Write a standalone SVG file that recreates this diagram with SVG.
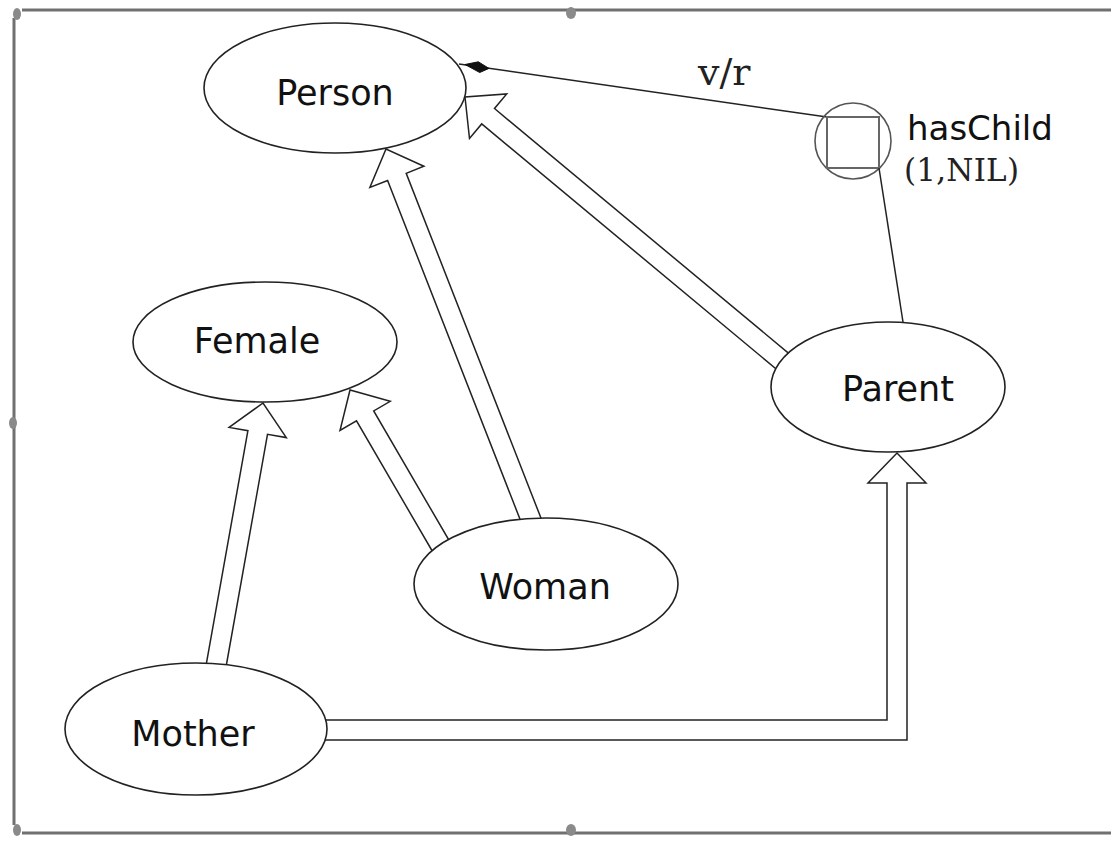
<svg xmlns="http://www.w3.org/2000/svg" width="1111" height="844" viewBox="0 0 1111 844">
<style>
.frame{stroke:#707070;stroke-width:3;fill:none}
.handle{fill:#8a8a8a}
.node{fill:#fff;stroke:#222;stroke-width:1.6}
.lbl{font-family:"DejaVu Sans",sans-serif;font-size:35px;fill:#111;text-anchor:middle}
.conn{fill:#fff;stroke:#222;stroke-width:1.5;stroke-linejoin:miter}
.ln{fill:none;stroke:#222;stroke-width:1.5}
.serif{font-family:"DejaVu Serif","Liberation Serif",serif;fill:#222}
</style>
<rect width="1111" height="844" fill="#fff"/>
<g id="frame">
<line class="frame" x1="22" y1="10" x2="1111" y2="10"/>
<line class="frame" x1="22" y1="833" x2="1111" y2="833"/>
<line class="frame" x1="14" y1="18" x2="14" y2="825"/>
<ellipse class="handle" cx="17" cy="14" rx="4" ry="6"/>
<ellipse class="handle" cx="571" cy="13" rx="5" ry="6"/>
<ellipse class="handle" cx="13" cy="423" rx="4" ry="6"/>
<ellipse class="handle" cx="17" cy="830" rx="4" ry="6"/>
<ellipse class="handle" cx="571" cy="830" rx="5" ry="6"/>
</g>
<g id="connectors">
<path class="conn" d="M794.4,358.1 L494.5,108.5 L506.7,93.9 L465,97 L469.5,138.5 L481.7,123.9 L781.6,373.5"/>
<path class="conn" d="M544.5,527.1 L406.2,173.3 L423.9,166.3 L386,149 L369.9,187.5 L387.6,180.5 L525.9,534.3"/>
<path class="conn" d="M456.7,553.5 L373.7,410.9 L390.2,401.3 L350,390 L340,430.5 L356.5,420.9 L439.5,563.5"/>
<path class="conn" d="M223.6,680.5 L267.5,434.3 L286.3,437.6 L263,403 L229.1,427.4 L247.9,430.7 L204,676.9"/>
<path class="conn" d="M300,720 L887,720 L887,483 L868,483 L897,453 L926,483 L907,483 L907,740 L300,740"/>
<line class="ln" x1="827" y1="117" x2="459" y2="64"/>
<polygon points="465,64.5 478.3,61.8 489,68.4 479.7,72.5" fill="#111" stroke="#111" stroke-width="1"/>
<text class="serif" x="698" y="85" font-size="38">v/r</text>
</g>
<g id="hasChild">
<circle cx="853" cy="141" r="38" fill="none" stroke="#555" stroke-width="1.6"/>
<rect x="827" y="117" width="52" height="51" fill="none" stroke="#666" stroke-width="2"/>
<line class="ln" x1="879" y1="168" x2="903" y2="322"/>
<text x="907" y="140" font-family="DejaVu Sans, sans-serif" font-size="34" fill="#111">hasChild</text>
<text class="serif" x="904" y="181" font-size="31" textLength="115" lengthAdjust="spacing">(1,NIL)</text>
</g>
<g id="Person">
<ellipse class="node" cx="335" cy="88" rx="131" ry="65"/>
<text class="lbl" x="335" y="105">Person</text>
</g>
<g id="Female">
<ellipse class="node" cx="265" cy="342" rx="132" ry="60"/>
<text class="lbl" x="257" y="353">Female</text>
</g>
<g id="Parent">
<ellipse class="node" cx="888" cy="387" rx="117" ry="65"/>
<text class="lbl" x="898" y="401">Parent</text>
</g>
<g id="Woman">
<ellipse class="node" cx="546" cy="584" rx="132" ry="66"/>
<text class="lbl" x="545" y="599">Woman</text>
</g>
<g id="Mother">
<ellipse class="node" cx="196" cy="729" rx="131" ry="66"/>
<text class="lbl" x="193" y="746">Mother</text>
</g>
</svg>
